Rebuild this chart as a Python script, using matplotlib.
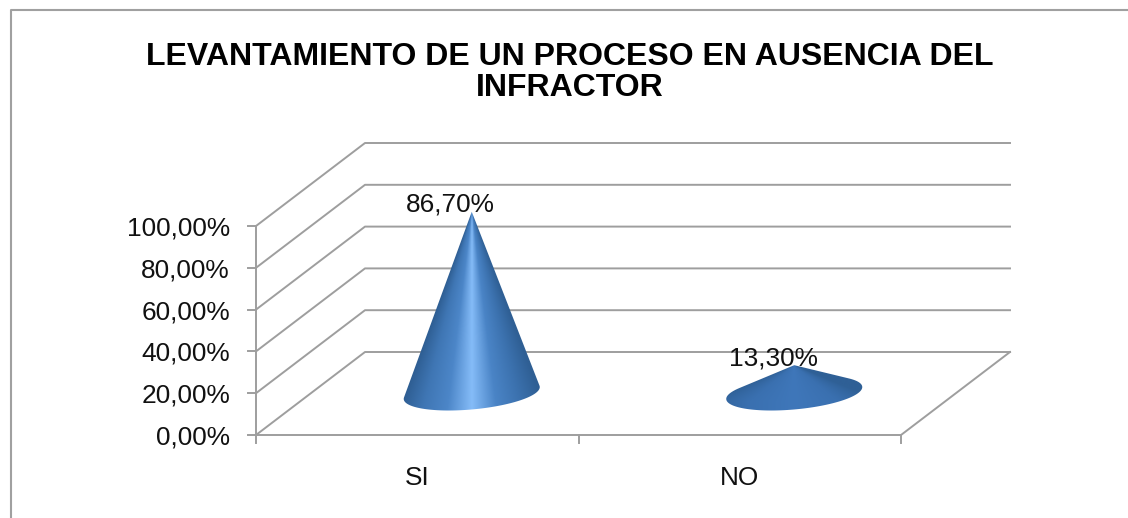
import numpy as np
import matplotlib
matplotlib.use("Agg")
import matplotlib.pyplot as plt
from matplotlib.colors import LinearSegmentedColormap
from matplotlib.patches import Polygon

categories = ["SI", "NO"]
values = [86.7, 13.3]
value_labels = ["86,70%", "13,30%"]
ticks = [0, 20, 40, 60, 80, 100]
tick_labels = ["0,00%", "20,00%", "40,00%", "60,00%", "80,00%", "100,00%"]
title = "LEVANTAMIENTO DE UN PROCESO EN AUSENCIA DEL\nINFRACTOR"

# layout in pixels of the 1128x518 picture
X0, X1 = 256, 901
Y0, Y100 = 435, 226
DX, DY = 109, -83
GREY = "#9e9e9e"

plt.rcParams["font.family"] = ["Liberation Sans", "DejaVu Sans"]

fig = plt.figure(figsize=(11.28, 5.18), dpi=100)
ax = fig.add_axes([0, 0, 1, 1])
ax.axis("off")


def ypos(v):
    return Y0 + (Y100 - Y0) * v / 100.0


# outer border, only top and left show
ax.plot([10.5, 10.5, 1128], [518, 9.5, 9.5], color="#a0a0a0", lw=1.5)

# walls and floor
for t in ticks:
    y = ypos(t)
    ax.plot([X0, X0 + DX, X1 + DX], [y, y + DY, y + DY], color=GREY, lw=1.4)
    ax.plot([X0 - 8, X0], [y, y], color=GREY, lw=1.4)
ax.plot([X0, X0], [ypos(0), ypos(100)], color=GREY, lw=1.4)
ax.plot([X0, X1, X1 + DX], [Y0, Y0, Y0 + DY], color=GREY, lw=1.4)
for i in range(len(categories) + 1):
    x = X0 + (X1 - X0) * i / len(categories)
    ax.plot([x, x], [Y0, Y0 + 8], color=GREY, lw=1.4)

for t, lab in zip(ticks, tick_labels):
    ax.text(230, ypos(t) + 2.5, lab, ha="right", va="center", fontsize=18.9, color="#111111")

# cones
bright = LinearSegmentedColormap.from_list(
    "bright", ["#2d5c90", "#3f76b4", "#4c86c8", "#85bcf8", "#4a84c6", "#3c72af", "#2f5f94"])
flat = LinearSegmentedColormap.from_list(
    "flat", ["#2f6096", "#3a70b0", "#3f77ba", "#3a70b0", "#2f6096"])
cone_maps = [bright, flat]

step = (X1 - X0) / len(categories)
for i, (cat, val, lab) in enumerate(zip(categories, values, value_labels)):
    cx = X0 + step * (i + 0.5) + DX / 2
    cy = ypos(0) + DY / 2 - 0.5
    apex_y = cy - (Y0 - Y100) * val / 100.0
    t = np.linspace(0, 2 * np.pi, 360, endpoint=False)
    ex = cx + 64 * np.cos(t) + 23 * np.sin(t)
    ey = cy - 17.5 * np.sin(t)
    # tangents from the apex to the base, then round the front of the base
    ang = np.arctan2(ex - cx, ey - apex_y)
    j = int(np.argmax(ang))
    j_end = int(np.argmin(ang))
    arc = []
    while j != j_end:
        arc.append((ex[j], ey[j]))
        j = (j - 1) % len(t)
    arc.append((ex[j_end], ey[j_end]))
    clip = Polygon([(cx, apex_y)] + arc, closed=True, transform=ax.transData, fc="none", ec="none")
    ax.add_patch(clip)
    # shading runs towards the apex, as on a real cone
    top, bottom = apex_y - 1, cy + 20
    xx, yy = np.meshgrid(np.linspace(cx - 69, cx + 69, 400), np.linspace(top, bottom, 400))
    half = 68 * np.clip((yy - apex_y) / (cy - apex_y), 0.02, 1.3)
    shade = np.clip(0.5 + (xx - cx) / (2 * half), 0, 1)
    im = ax.imshow(shade, cmap=cone_maps[i], vmin=0, vmax=1,
                   extent=[cx - 69, cx + 69, bottom, top], aspect="auto", zorder=3)
    im.set_clip_path(clip)
    ax.text(cx - 21, apex_y, lab, ha="center", va="baseline",
            fontsize=18.9, color="#111111", zorder=4)
    ax.text(X0 + step * (i + 0.5), 478, cat, ha="center", va="center", fontsize=18.9, color="#111111")

ax.set_xlim(0, 1128)
ax.set_ylim(518, 0)

ax.text(570, 72.5, title, ha="center", va="center", fontsize=23, fontweight="bold",
        linespacing=1.08, color="black")

fig.savefig("out.png", dpi=100)
